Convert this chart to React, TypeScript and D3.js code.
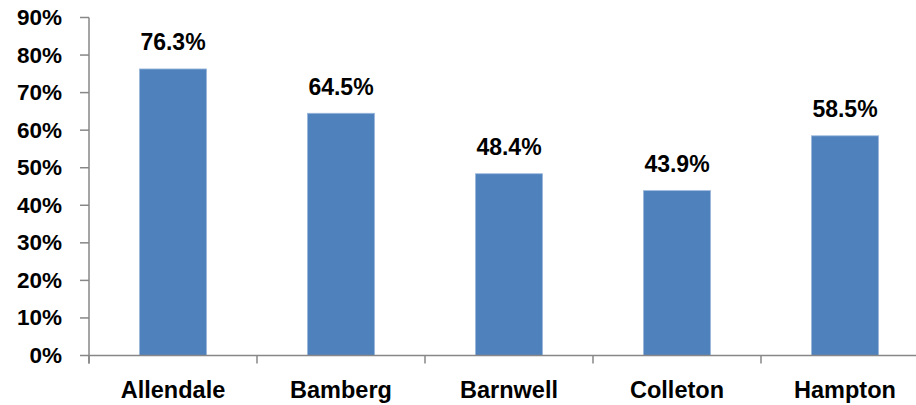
import React from "react";
import * as d3 from "d3";

const categories = ["Allendale", "Bamberg", "Barnwell", "Colleton", "Hampton"];
const values = [0.763, 0.645, 0.484, 0.439, 0.585];
const yTicks = [0, 0.1, 0.2, 0.3, 0.4, 0.5, 0.6, 0.7, 0.8, 0.9];

const W = 916;
const H = 405;
const axisX = 89;
const plotRight = 929;
const y0 = 355.5;
const yTop = 17.5;

export default function App() {
  const x = d3
    .scaleBand<string>()
    .domain(categories)
    .range([axisX, plotRight])
    .paddingInner(0.6)
    .paddingOuter(0.3);
  const y = d3.scaleLinear().domain([0, 0.9]).range([y0, yTop]);
  const fmt = d3.format(".0%");
  const fmtV = d3.format(".1%");
  const step = x.step();
  const boundaries = d3.range(categories.length + 1).map((i) => axisX + i * step);
  const font = "'Liberation Sans', Arial, sans-serif";
  const axisColor = "#878787";

  return (
    <svg
      width={W}
      height={H}
      style={{ position: "absolute", left: 0, top: 0, background: "#fff" }}
      fontFamily={font}
      fontWeight="bold"
    >
      <rect x={0} y={0} width={W} height={H} fill="#fff" />
      {categories.map((c, i) => (
        <rect
          key={c}
          x={x(c)}
          y={y(values[i])}
          width={x.bandwidth()}
          height={y0 - y(values[i])}
          fill="#4F81BD"
          stroke="#9DB9DD"
          strokeWidth={0.8}
        />
      ))}
      {categories.map((c, i) => (
        <text
          key={c + "v"}
          x={(x(c) as number) + x.bandwidth() / 2}
          y={y(values[i]) - 18.5}
          textAnchor="middle"
          fontSize={23}
          fill="#000"
        >
          {fmtV(values[i])}
        </text>
      ))}
      <line x1={axisX} x2={axisX} y1={yTop} y2={y0 + 8} stroke={axisColor} strokeWidth={1.5} />
      {yTicks.map((t) => (
        <g key={t}>
          <line x1={80} x2={axisX} y1={y(t)} y2={y(t)} stroke={axisColor} strokeWidth={1.5} />
          <text x={62} y={y(t) + 7.5} textAnchor="end" fontSize={22.5} fill="#000">
            {fmt(t)}
          </text>
        </g>
      ))}
      <line x1={axisX} x2={plotRight} y1={y0} y2={y0} stroke={axisColor} strokeWidth={1.5} />
      {boundaries.map((b, i) => (
        <line key={i} x1={b} x2={b} y1={y0} y2={y0 + 8} stroke={axisColor} strokeWidth={1.5} />
      ))}
      {categories.map((c) => (
        <text
          key={c + "x"}
          x={(x(c) as number) + x.bandwidth() / 2}
          y={398}
          textAnchor="middle"
          fontSize={23.5}
          fill="#000"
        >
          {c}
        </text>
      ))}
    </svg>
  );
}
